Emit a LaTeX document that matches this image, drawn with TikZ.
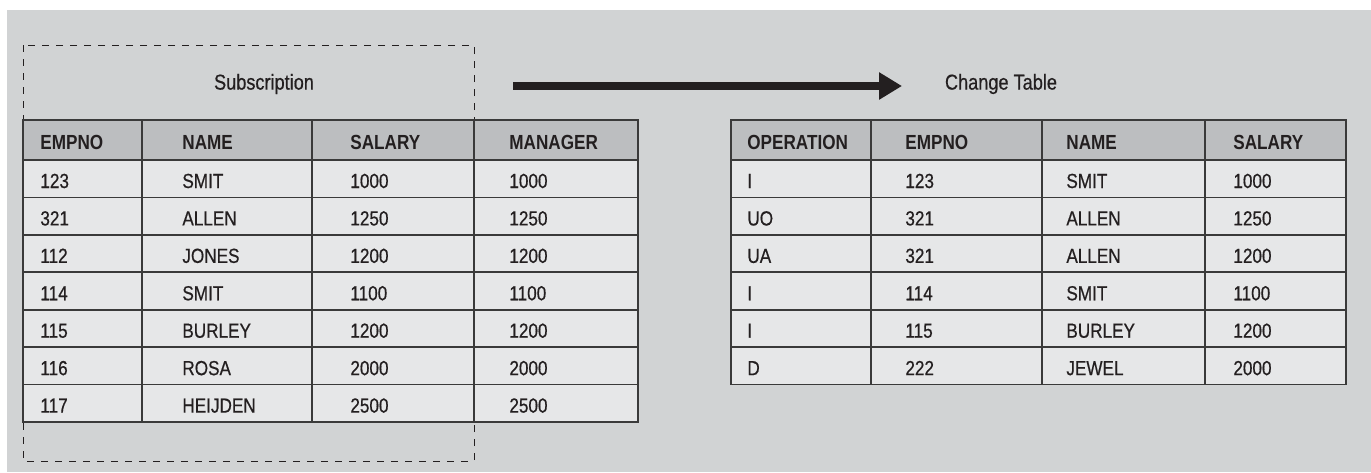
\documentclass[tikz,border=0pt]{standalone}
\usepackage{fontspec}
\setmainfont{Liberation Sans}[FakeStretch=0.84]
\newfontfamily\cellfont{Liberation Sans}[FakeStretch=0.84, FakeBold=0.5]
\usepackage{tikz}
\usetikzlibrary{arrows.meta, positioning}
\definecolor{bggray}{RGB}{209, 211, 212}
\definecolor{headgray}{RGB}{188, 190, 192}
\definecolor{cellgray}{RGB}{230, 231, 232}
\definecolor{gridline}{RGB}{58, 58, 58}
\definecolor{inkdark}{RGB}{35, 31, 32}

\begin{document}
\begin{tikzpicture}[
  x=0.5pt, y=-0.5pt,
  hcell/.style={draw=gridline, line width=0.9pt, fill=headgray},
  bcell/.style={draw=gridline, line width=0.9pt, fill=cellgray},
  htext/.style={anchor=base west, inner sep=0pt, text=inkdark, font=\fontsize{10.2}{12}\selectfont\bfseries},
  btext/.style={anchor=base west, inner sep=0pt, text=inkdark, font=\cellfont\fontsize{10.2}{12}\selectfont},
  ttext/.style={inner sep=0pt, text=inkdark, font=\cellfont\fontsize{10.8}{13}\selectfont},
  frame/.style={draw=inkdark, line width=0.5pt, dash pattern=on 3.5pt off 3.5pt}
]
  \useasboundingbox (0,0) rectangle (1371,472);
  \fill[white] (0,0) rectangle (1371,472);
  \fill[bggray] (7,10) rectangle (1371,472);

  % subscription frame and titles
  \draw[frame] (23,45) rectangle (474,461);
  \node[ttext] (subtitle) at (264,84) {Subscription};
  \node[ttext] (chgtitle) at (1001,84) {Change Table};
  \coordinate (arrA) at (513,86);
  \coordinate (arrB) at (902,86);
  \draw[line width=4pt, inkdark, -{Triangle[length=11.5pt, width=13pt]}] (arrA) -- (arrB);

  % subscribed table
  \foreach \xa/\xb/\xt/\lab [count=\j] in {23/142/40/EMPNO, 142/312/182/NAME, 312/474/350/SALARY, 474/638/509/MANAGER}{
    \draw[hcell] (\xa,120) rectangle (\xb,160);
    \node[htext] (sh\j) at (\xt,149) {\lab};
  }
  \foreach \ea/\na/\sa/\ma [count=\i] in {123/SMIT/1000/1000, 321/ALLEN/1250/1250, 112/JONES/1200/1200, 114/SMIT/1100/1100, 115/BURLEY/1200/1200, 116/ROSA/2000/2000, 117/HEIJDEN/2500/2500}{
    \pgfmathsetmacro{\ya}{160+37.43*(\i-1)}
    \pgfmathsetmacro{\yb}{\ya+37.43}
    \pgfmathsetmacro{\yt}{\ya+28}
    \foreach \xa/\xb/\xt/\v [count=\j] in {23/142/40/\ea, 142/312/182/\na, 312/474/350/\sa, 474/638/509/\ma}{
      \draw[bcell] (\xa,\ya) rectangle (\xb,\yb);
      \node[btext] (s\i-\j) at (\xt,\yt) {\v};
    }
  }

  % change table
  \foreach \xa/\xb/\xt/\lab [count=\j] in {731/871/747/OPERATION, 871/1042/905/EMPNO, 1042/1205/1066/NAME, 1205/1346/1233/SALARY}{
    \draw[hcell] (\xa,120) rectangle (\xb,160);
    \node[htext] (ch\j) at (\xt,149) {\lab};
  }
  \foreach \op/\ea/\na/\sa [count=\i] in {I/123/SMIT/1000, UO/321/ALLEN/1250, UA/321/ALLEN/1200, I/114/SMIT/1100, I/115/BURLEY/1200, D/222/JEWEL/2000}{
    \pgfmathsetmacro{\ya}{160+37.43*(\i-1)}
    \pgfmathsetmacro{\yb}{\ya+37.43}
    \pgfmathsetmacro{\yt}{\ya+28}
    \foreach \xa/\xb/\xt/\v [count=\j] in {731/871/747/\op, 871/1042/905/\ea, 1042/1205/1066/\na, 1205/1346/1233/\sa}{
      \draw[bcell] (\xa,\ya) rectangle (\xb,\yb);
      \node[btext] (c\i-\j) at (\xt,\yt) {\v};
    }
  }
\end{tikzpicture}
\end{document}
